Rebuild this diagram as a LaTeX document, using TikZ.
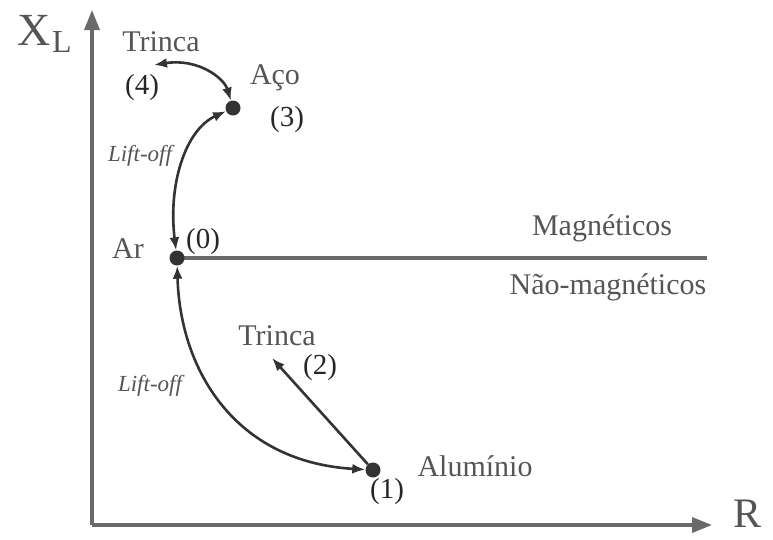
\documentclass[tikz,border=0pt]{standalone}
\usepackage{fontspec}
\setmainfont{Liberation Serif}
\usetikzlibrary{arrows.meta}
\definecolor{txt}{HTML}{555555}
\definecolor{axis}{HTML}{6A6A6A}
\definecolor{ink}{HTML}{333333}
\begin{document}
\begin{tikzpicture}[x=1pt,y=-1pt,
  lbl/.style={text=txt,font=\fontsize{30}{33}\selectfont,inner sep=0pt},
  num/.style={text=black!85,font=\fontsize{29}{32}\selectfont,inner sep=0pt},
  lift/.style={text=txt,font=\fontsize{23}{26}\selectfont\itshape,inner sep=0pt},
  dotnode/.style={circle,fill=ink,inner sep=0pt,minimum size=15pt},
  conn/.style={draw=ink,line width=2.6pt,{Latex[length=13pt,width=10pt]}-{Latex[length=13pt,width=10pt]}},
  conn1/.style={draw=ink,line width=2.6pt,-{Latex[length=13pt,width=10pt]}},
  axisline/.style={draw=axis,line width=3.4pt}]
\useasboundingbox (0,0) rectangle (773,539);
% axes
\coordinate (O) at (92,525);
\coordinate (ytip) at (92,10);
\coordinate (xtip) at (712,525);
\draw[axisline,-{Triangle[length=20pt,width=15pt]}] (O) -- (ytip);
\draw[axisline,-{Triangle[length=20pt,width=15pt]}] (O) -- (xtip);
\node[text=txt,font=\fontsize{46}{50}\selectfont,inner sep=0pt] (xl) at (34,30) {X};
\node[text=txt,font=\fontsize{32}{36}\selectfont,inner sep=0pt] (xlsub) at (62,42) {L};
\node[text=txt,font=\fontsize{42}{46}\selectfont,inner sep=0pt] (rl) at (747,514) {R};
% dots
\coordinate (d0c) at (177,258);
\coordinate (hend) at (707,258);
\draw[axisline] (d0c) -- (hend);
\node[dotnode] (d0) at (d0c) {};
\node[dotnode] (d3) at (233,108) {};
\node[dotnode] (d1) at (373,470) {};
% labels
\node[lbl] (trinca4) at (161,42) {Trinca};
\node[num] (n4) at (142,88) {(4)};
\node[lbl] (aco) at (275,78) {Aço};
\node[num] (n3) at (287,120) {(3)};
\node[lift] (lift1) at (140,156) {Lift-off};
\node[lbl] (ar) at (128,249) {Ar};
\node[num] (n0) at (203,242) {(0)};
\node[lbl] (mag) at (602,228) {Magnéticos};
\node[lbl] (nmag) at (608,287) {Não-magnéticos};
\node[lbl] (trinca2) at (277,336) {Trinca};
\node[num] (n2) at (320,368) {(2)};
\node[lift] (lift2) at (150,386) {Lift-off};
\node[lbl] (alu) at (475,466) {Alumínio};
\node[num] (n1) at (387,492) {(1)};
% connectors
\coordinate (t4end) at (154,65);
\coordinate (t2end) at (272,358);
\draw[conn] (t4end) .. controls (198,58) and (224,78) .. (d3);
\draw[conn] (d0) .. controls (168,185) and (185,130) .. (d3);
\draw[conn] (d0) .. controls (180,370) and (235,462) .. (d1);
\draw[conn1] (d1) -- (t2end);
\end{tikzpicture}
\end{document}
